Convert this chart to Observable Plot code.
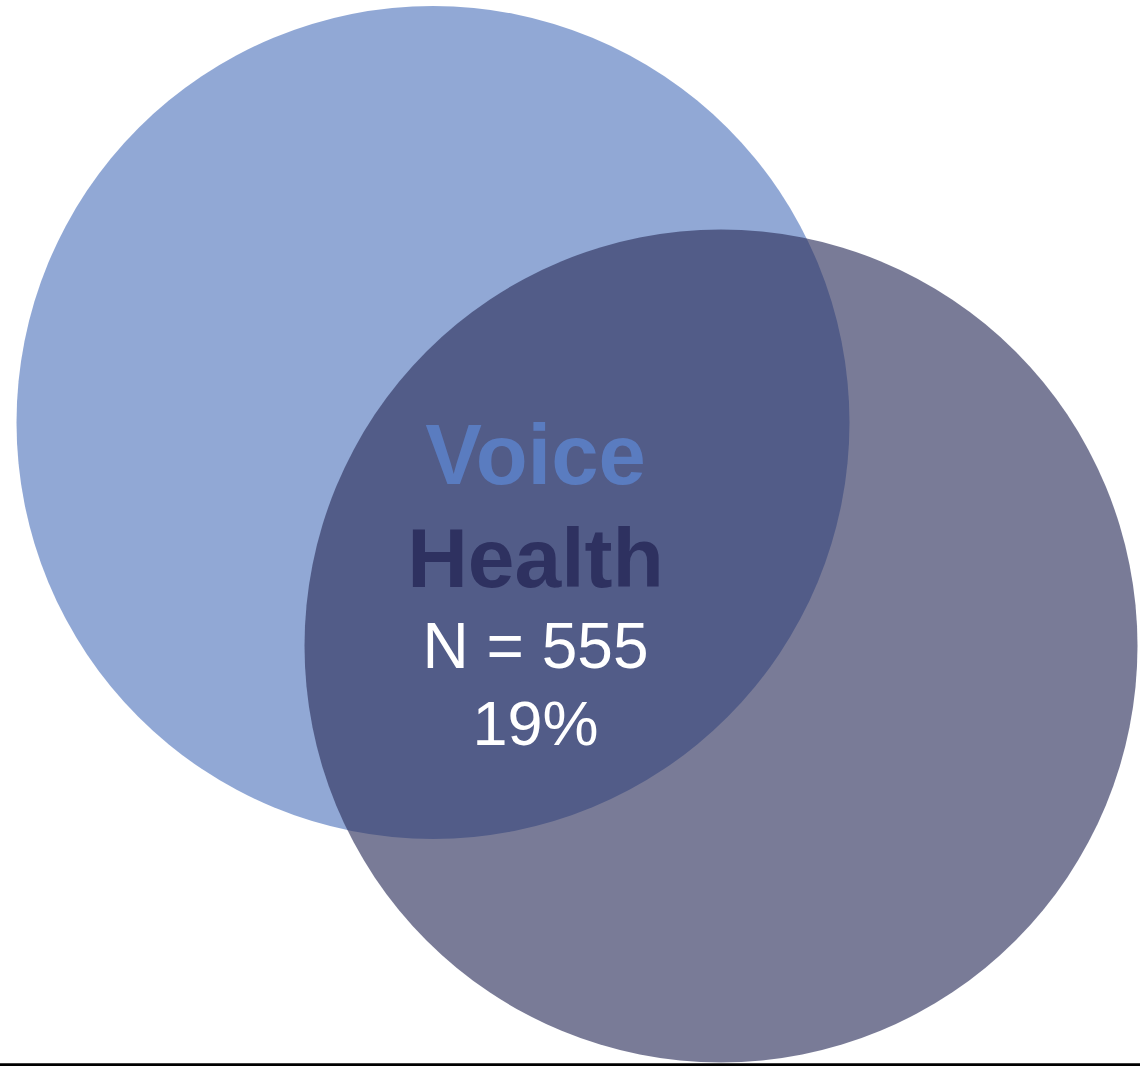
<!DOCTYPE html>
<html>
<head>
<meta charset="utf-8">
<script src="https://cdn.jsdelivr.net/npm/d3@7"></script>
<script src="https://cdn.jsdelivr.net/npm/@observablehq/plot@0.6"></script>
<style>
  html, body { margin: 0; padding: 0; background: #ffffff; }
  #chart svg { display: block; }
</style>
</head>
<body>
<div id="chart"></div>
<script>
// ---- Data (Venn layout in units of circle radius) ----
const sets = ["Voice", "Health"];
const setCenterX = [0, 0.6915];
const setCenterY = [0, -0.5366];
const setRadius = [1, 1];
const overlapN = 555;
const overlapPct = 19;
const labelX = [0.2461];
const labelY = [-0.4274];

// ---- Layout ----
const W = 1140, H = 1066;
const k = 416.5;            // pixels per unit
const ox = 432.5, oy = 422; // pixel position of unit origin

const circles = sets.map((s, i) => ({set: s, x: setCenterX[i], y: setCenterY[i], r: setRadius[i]}));
const anchor = [{x: labelX[0], y: labelY[0]}];
const font = "Liberation Sans, Arial, Helvetica, sans-serif";

const chart = Plot.plot({
  width: W,
  height: H,
  margin: 0,
  x: {domain: [-ox / k, (W - ox) / k], range: [0, W], axis: null},
  y: {domain: [-(H - oy) / k, oy / k], range: [H, 0], axis: null},
  r: {type: "identity"},
  color: {domain: sets, range: ["#5a7cc0", "#2e325e"]},
  marks: [
    Plot.dot(circles.filter(d => d.set === "Voice"), {x: "x", y: "y", r: d => d.r * k, fill: "set", fillOpacity: 0.667, stroke: null}),
    Plot.dot(circles.filter(d => d.set === "Health"), {x: "x", y: "y", r: d => d.r * k, fill: "set", fillOpacity: 0.645, stroke: null}),
    Plot.text(anchor, {x: "x", y: "y", text: () => sets[0], dy: -144.2, fontSize: 85, fontWeight: "bold", fill: "#5a7cc0", fontFamily: font, textAnchor: "middle"}),
    Plot.text(anchor, {x: "x", y: "y", text: () => sets[1], dy: -40.9, fontSize: 84, fontWeight: "bold", fill: "#2e3160", fontFamily: font, textAnchor: "middle"}),
    Plot.text(anchor, {x: "x", y: "y", text: () => `N = ${overlapN}`, dy: 47.5, fontSize: 64, fill: "#ffffff", fontFamily: font, textAnchor: "middle"}),
    Plot.text(anchor, {x: "x", y: "y", text: () => `${overlapPct}%`, dy: 124.8, fontSize: 63, fill: "#ffffff", fontFamily: font, textAnchor: "middle"}),
    Plot.ruleY([-(1064.5 - oy) / k], {stroke: "#000000", strokeWidth: 3.5})
  ]
});
document.getElementById("chart").appendChild(chart);
</script>
</body>
</html>
